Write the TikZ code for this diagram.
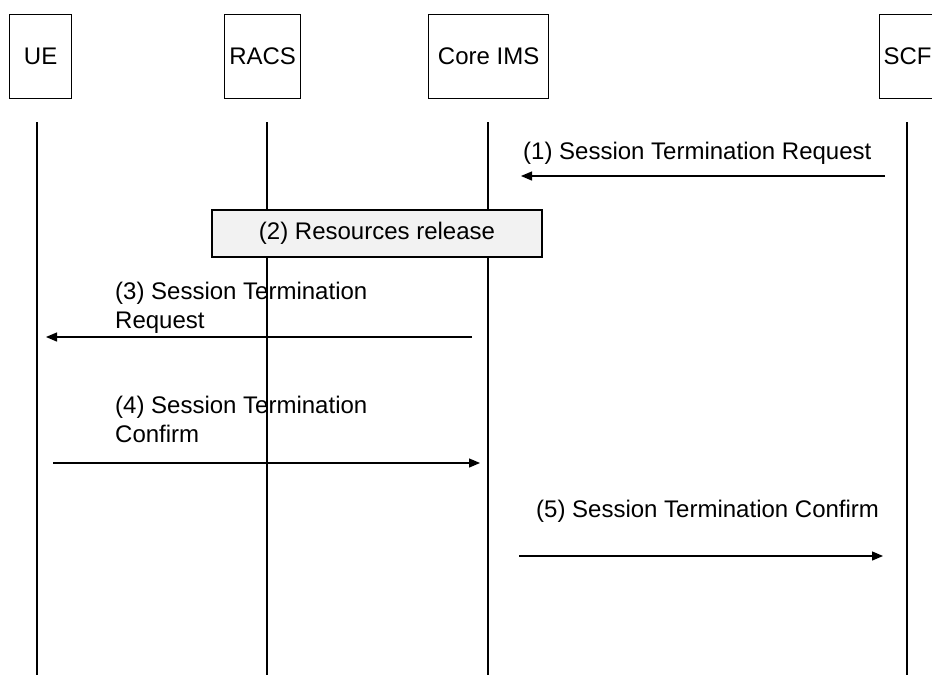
\documentclass[tikz,border=0pt]{standalone}
\usepackage{fontspec}
\setmainfont{Liberation Sans}
\usetikzlibrary{arrows.meta}
\definecolor{boxgray}{HTML}{F2F2F2}
\begin{document}
\begin{tikzpicture}[x=1pt,y=-1pt,
  every node/.style={font=\fontsize{24}{29}\selectfont, inner sep=0pt},
  head/.style={draw, line width=1.3pt, minimum height=84pt, anchor=north west},
  life/.style={line width=1.3pt},
  msg/.style={line width=1.3pt, -{Triangle[length=11pt,width=9pt]}},
  msglabel/.style={anchor=base west, align=left},
  procbox/.style={draw, fill=boxgray, line width=1.3pt},
]
\useasboundingbox (0,0) rectangle (932,675);
\clip (0,0) rectangle (932,675);

% lifeline heads
\node[head, minimum width=62pt]  (ue)   at (9,14)   {UE};
\node[head, minimum width=76pt]  (racs) at (224,14) {RACS};
\node[head, minimum width=120pt] (core) at (428,14) {Core IMS};
\node[head, minimum width=56pt]  (scf)  at (879,14) {SCF};

% lifelines
\coordinate (ueT) at (37,122);   \coordinate (ueB) at (37,675);
\coordinate (raT) at (267,122);  \coordinate (raB) at (267,675);
\coordinate (coT) at (488,122);  \coordinate (coB) at (488,675);
\coordinate (scT) at (907,122);  \coordinate (scB) at (907,675);
\draw[life] (ueT) -- (ueB);
\draw[life] (raT) -- (raB);
\draw[life] (coT) -- (coB);
\draw[life] (scT) -- (scB);

% (1)
\node[msglabel] (l1) at (523,159) {(1) Session Termination Request};
\coordinate (m1s) at (885,176); \coordinate (m1e) at (521,176);
\draw[msg] (m1s) -- (m1e);

% (2)
\node[procbox, minimum width=330pt, minimum height=47pt] (rr) at (377,233.5) {(2) Resources release};

% (3)
\node[msglabel] (l3) at (115,328) {(3) Session Termination\\Request};
\coordinate (m3s) at (472,337); \coordinate (m3e) at (46,337);
\draw[msg] (m3s) -- (m3e);

% (4)
\node[msglabel] (l4) at (115,442) {(4) Session Termination\\Confirm};
\coordinate (m4s) at (53,463); \coordinate (m4e) at (480,463);
\draw[msg] (m4s) -- (m4e);

% (5)
\node[msglabel] (l5) at (536,517) {(5) Session Termination Confirm};
\coordinate (m5s) at (519,556); \coordinate (m5e) at (883,556);
\draw[msg] (m5s) -- (m5e);
\end{tikzpicture}
\end{document}
